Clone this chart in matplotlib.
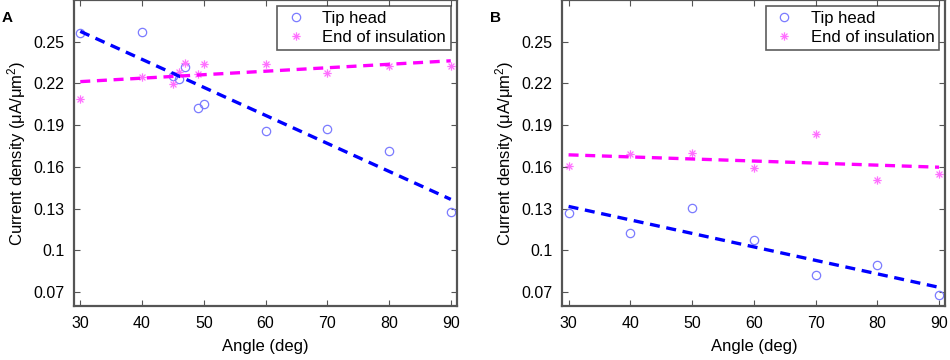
import numpy as np
import matplotlib
matplotlib.use("Agg")
import matplotlib.pyplot as plt
from matplotlib.path import Path

plt.rcParams['font.family'] = ['Liberation Sans', 'DejaVu Sans']

# panel A
angle_a = [30, 40, 45, 46, 47, 49, 50, 60, 70, 80, 90]
tip_a = [0.2563, 0.2570, 0.2255, 0.2234, 0.2320, 0.2025, 0.2054, 0.1860, 0.1876, 0.1713, 0.1274]
ins_a = [0.2090, 0.2248, 0.2198, 0.2284, 0.2344, 0.2265, 0.2342, 0.2342, 0.2275, 0.2325, 0.2322]

# panel B
angle_b = [30, 40, 50, 60, 70, 80, 90]
tip_b = [0.1271, 0.1125, 0.1305, 0.1077, 0.0822, 0.0894, 0.0681]
ins_b = [0.1610, 0.1696, 0.1699, 0.1595, 0.1838, 0.1506, 0.1552]

yticks = [0.07, 0.1, 0.13, 0.16, 0.19, 0.22, 0.25]
ytick_labels = ["0.07", "0.1", "0.13", "0.16", "0.19", "0.22", "0.25"]
xticks = [30, 40, 50, 60, 70, 80, 90]

# matlab-style asterisk: plus and cross together
d = 0.7071
asterisk = Path([(-1, 0), (1, 0), (0, -1), (0, 1), (-d, -d), (d, d), (-d, d), (d, -d)],
                [Path.MOVETO, Path.LINETO] * 4)


def panel(ax, x, tip, ins, letter):
    x = np.array(x)
    ax.plot(x, tip, 'o', ms=6, mfc='none', mec='#7b7bff', mew=0.9, label='Tip head')
    ax.plot(x, ins, ls='none', marker=asterisk, ms=6, mec='#ff70ff', mew=0.9,
            label='End of insulation')
    xs = np.array([30, 90])
    p = np.polyfit(x, tip, 1)
    ax.plot(xs, np.polyval(p, xs), '--', color='#0000ff', lw=2.4, dashes=(3, 2))
    p = np.polyfit(x, ins, 1)
    ax.plot(xs, np.polyval(p, xs), '--', color='#ff00ff', lw=2.4, dashes=(3, 2))
    ax.set_xlim(29, 91)
    ax.set_ylim(0.06, 0.28)
    ax.set_xticks(xticks)
    ax.set_yticks(yticks)
    ax.set_yticklabels(ytick_labels)
    ax.tick_params(direction='in', top=True, right=True, labelsize=11.5, length=4,
                   color='#555555', pad=7)
    for s in ax.spines.values():
        s.set_color('#555555')
        s.set_linewidth(1.6)
    ax.set_xlabel('Angle (deg)', fontsize=12, labelpad=6)
    ax.set_ylabel(r'Current density ($\mathregular{\mu A/\mu m^2}$)', fontsize=12,
                  labelpad=4)
    leg = ax.legend(loc='upper right', fontsize=12, frameon=True, fancybox=False,
                    handletextpad=0.8, borderaxespad=0.35, borderpad=0.3,
                    labelspacing=0.25, handlelength=1.6)
    leg.get_frame().set_edgecolor('#333333')
    leg.get_frame().set_linewidth(1.2)
    ax.figure.text(ax.get_position().x0 - 0.076, 0.97, letter, fontsize=11,
                   fontweight='bold', va='top')


fig = plt.figure(figsize=(9.5, 3.6), dpi=100)
ax1 = fig.add_axes([0.078, 0.15, 0.403, 0.85])
ax2 = fig.add_axes([0.592, 0.15, 0.403, 0.85])
panel(ax1, angle_a, tip_a, ins_a, 'A')
panel(ax2, angle_b, tip_b, ins_b, 'B')
fig.savefig('out.png', dpi=100)
